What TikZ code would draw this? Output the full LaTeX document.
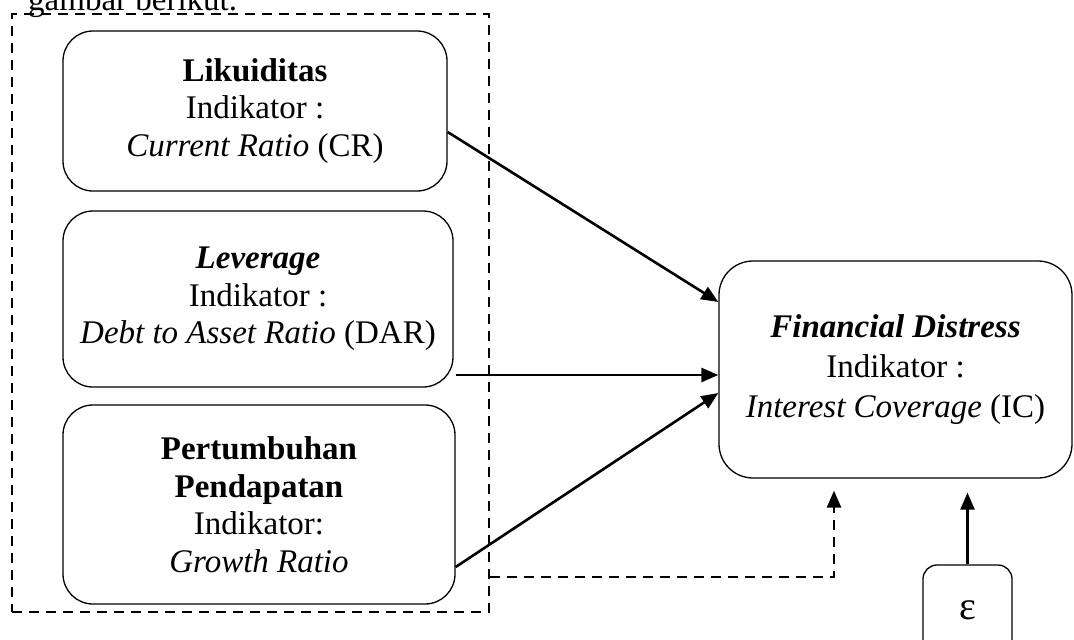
\documentclass[tikz,border=0pt]{standalone}
\usepackage{fontspec}
\setmainfont{Liberation Serif}
\usetikzlibrary{arrows.meta, positioning, calc}

\begin{document}
\begin{tikzpicture}[
  x=1pt, y=-1pt,
  var/.style={draw, line width=1.3pt, rounded corners=30pt, align=center, inner sep=0pt,
              font=\fontsize{33}{37.5}\selectfont},
  errbox/.style={draw, line width=1.3pt, rounded corners=14pt, inner sep=0pt,
              minimum width=89pt, minimum height=90pt, font=\fontsize{40}{44}\selectfont},
  grp/.style={draw, line width=2.6pt, dash pattern=on 10pt off 7pt, inner sep=0pt},
  arr/.style={-{Triangle[length=17pt, width=14pt]}, line width=2.6pt},
  dasharr/.style={-{Triangle[length=17pt, width=14pt]}, line width=2.6pt, dash pattern=on 10pt off 7pt}
]
\useasboundingbox (0,0) rectangle (1074,640);

% Preceding text (cut off)
\node[anchor=base west, inner sep=0pt, font=\fontsize{33}{38}\selectfont] (intro) at (28,10) {gambar berikut.};

% Independent variables
\node[var, minimum width=384pt, minimum height=160pt] (likuid) at (255,111) {%
\textbf{Likuiditas}\\Indikator :\\\textit{Current Ratio} (CR)};
\node[var, minimum width=390pt, minimum height=176pt] (lever) at (258,299) {%
\textbf{\textit{Leverage}}\\Indikator :\\\textit{Debt to Asset Ratio} (DAR)};
\node[var, minimum width=392pt, minimum height=199pt] (growth) at (259,504.5) {%
\textbf{Pertumbuhan}\\\textbf{Pendapatan}\\Indikator:\\\textit{Growth Ratio}};

% Simultaneous group
\node[grp, minimum width=477pt, minimum height=598pt] (frame) at (250.5,313) {};

% Dependent variable
\node[var, rounded corners=34pt, minimum width=353pt, minimum height=217pt,
      font=\fontsize{33}{40}\selectfont] (fd) at (895.5,369.5) {%
\textbf{\textit{Financial Distress}}\\Indikator :\\\textit{Interest Coverage} (IC)};

% Error term
\node[errbox] (eps) at (967.5,610) {ε};

% Paths
\draw[arr] ([yshift=-21pt]likuid.east) -- ([yshift=67.5pt]fd.west);
\draw[arr] ([xshift=2pt, yshift=-76pt]lever.east) -- ([yshift=-5.5pt]fd.west);
\draw[arr] ([yshift=-62.5pt]growth.east) -- ([yshift=-23.5pt]fd.west);
\draw[dasharr, shorten >=12pt] ([yshift=-264pt]frame.east) -| ([xshift=-61.5pt]fd.south);
\draw[arr, shorten >=14pt] (eps.north) -- (eps.north |- fd.south);
\end{tikzpicture}
\end{document}
